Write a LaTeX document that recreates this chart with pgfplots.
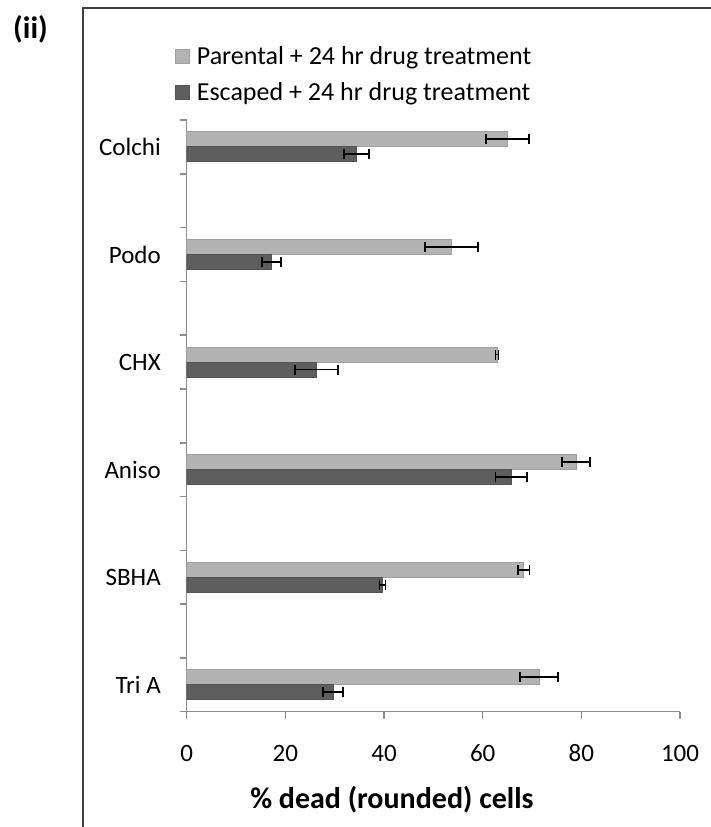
\documentclass[border=0pt]{standalone}
\usepackage{pgfplots}
\pgfplotsset{compat=1.18}
\usepackage{fontspec}
\setmainfont{Carlito}
\definecolor{parent}{HTML}{B3B3B3}
\definecolor{esc}{HTML}{5E5E5E}
\definecolor{axgray}{HTML}{8C8C8C}
\begin{document}
\begin{tikzpicture}[x=1pt,y=1pt]
\useasboundingbox (0,0) rectangle (711,-827);
\draw[line width=2pt, color=black!75] (83,-830) -- (83,-8) -- (714,-8);
\node[font=\bfseries\fontsize{31}{36}\selectfont] at (30.5,-29) {(ii)};
\begin{axis}[
  at={(186.7pt,-711.7pt)}, anchor=south west,
  scale only axis, width=493.3pt, height=591.7pt,
  xbar, bar width=15pt,
  xmin=0, xmax=100, ymin=-0.5, ymax=10.5,
  axis x line*=bottom, axis y line*=left,
  axis line style={axgray, line width=1.5pt},
  tick style={axgray, line width=1.5pt},
  tick align=outside, major tick length=7pt,
  xtick={0,20,40,60,80,100},
  ytick={-0.5,0.5,1.5,2.5,3.5,4.5,5.5,6.5,7.5,8.5,9.5,10.5},
  yticklabels={},
  extra y ticks={0,2,4,6,8,10},
  extra y tick labels={Tri A,SBHA,Aniso,CHX,Podo,Colchi},
  extra y tick style={major tick length=0pt, yticklabel style={inner sep=0pt, xshift=-25.7pt}},
  tick label style={font=\fontsize{25}{29}\selectfont},
  xticklabel style={inner sep=0pt, yshift=-26pt},
  /pgf/number format/assume math mode=true,
  xlabel={\% dead (rounded) cells},
  xlabel style={font=\bfseries\fontsize{30}{35}\selectfont, at={(axis description cs:0.416,-0.1492)}, anchor=center},
  legend style={at={(axis description cs:-0.024,1.125)}, anchor=north west, draw=none, fill=none, inner sep=0pt,
    font=\fontsize{26}{30}\selectfont, row sep=17pt, nodes={inner sep=0pt},
    /tikz/every odd column/.append style={column sep=7pt}},
  legend cell align=left,
  legend image code/.code={\fill[#1] (0pt,-7pt) rectangle (14pt,7pt);},
]
\addplot[bar shift=7.5pt, fill=parent, draw=parent!88!black, line width=0.8pt,
  error bars/.cd, x dir=both, x explicit, error mark=|,
  error bar style={black, line width=1.8pt},
  error mark options={black, line width=1.8pt, mark size=5pt}]
  coordinates {(71.4,0) +- (3.8,0) (68.3,2) +- (1.2,0) (78.9,4) +- (2.9,0)
               (62.9,6) +- (0.3,0) (53.7,8) +- (5.4,0) (65.0,10) +- (4.4,0)};
\addlegendentry{Parental + 24 hr drug treatment}
\addplot[bar shift=-7.5pt, fill=esc, draw=esc!88!black, line width=0.8pt,
  error bars/.cd, x dir=both, x explicit, error mark=|,
  error bar style={black, line width=1.8pt},
  error mark options={black, line width=1.8pt, mark size=5pt}]
  coordinates {(29.7,0) +- (2.0,0) (39.7,2) +- (0.6,0) (65.8,4) +- (3.2,0)
               (26.3,6) +- (4.4,0) (17.2,8) +- (1.9,0) (34.4,10) +- (2.5,0)};
\addlegendentry{Escaped + 24 hr drug treatment}
\end{axis}
\end{tikzpicture}
\end{document}
